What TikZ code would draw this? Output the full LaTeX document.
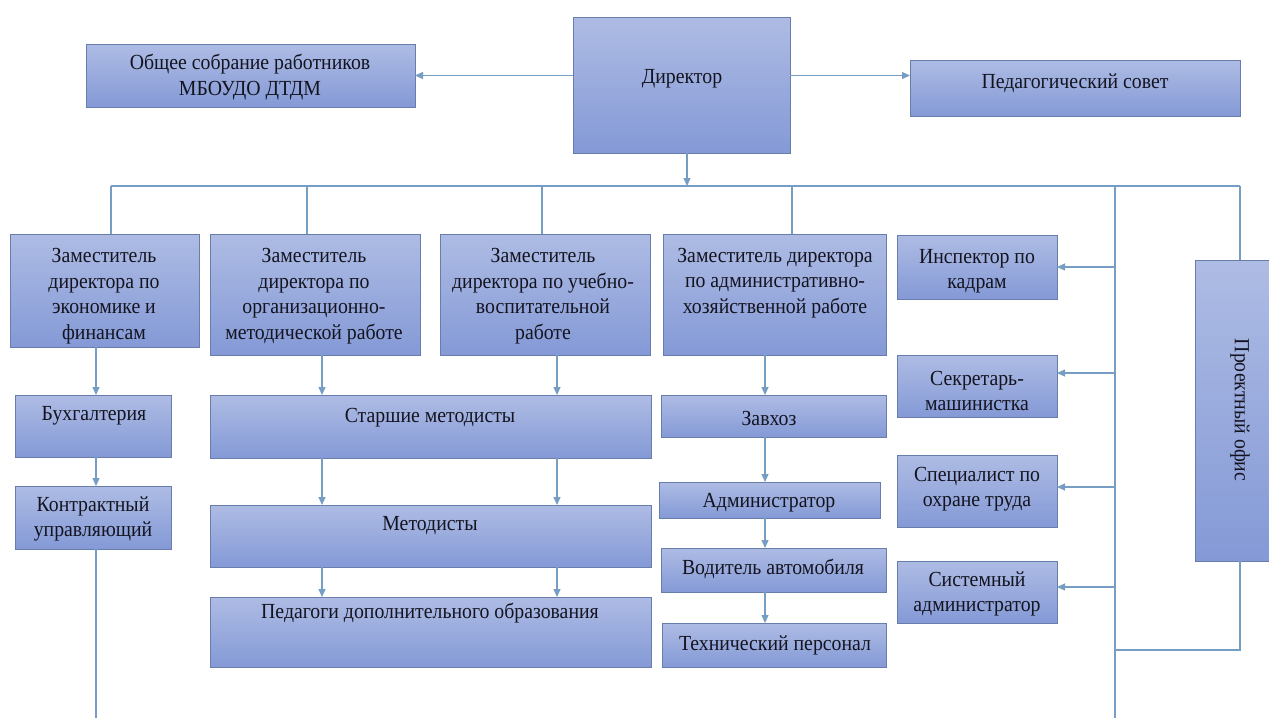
\documentclass[tikz,border=0pt]{standalone}
\usepackage{fontspec}
\setmainfont[FakeStretch=0.92]{Liberation Serif}
\usetikzlibrary{arrows.meta}
\definecolor{boxtop}{RGB}{174,188,228}
\definecolor{boxbot}{RGB}{132,153,214}
\definecolor{boxline}{RGB}{105,125,170}
\definecolor{linec}{RGB}{118,158,196}
\definecolor{txtc}{RGB}{20,20,32}
\newcommand\ubox[5]{\node[box, anchor=north west, minimum width={(#4-#2)*1pt}, minimum height={(#5-#3)*1pt}] (#1) at (#2,#3) {};}
\begin{document}
\begin{tikzpicture}[x=1pt,y=-1pt,
  box/.style={draw=boxline, line width=0.9pt, top color=boxtop, bottom color=boxbot, inner sep=0pt, outer sep=0pt},
  txt/.style={font=\fontsize{21.5}{25.5}\selectfont, text=txtc, align=center, inner sep=0pt},
  conn/.style={draw=linec, line width=1.2pt},
  arr/.style={conn, -{Triangle[length=8pt,width=7pt]}}]
\clip (0,0) rectangle (1269,718);
\fill[white] (0,0) rectangle (1269,718);
% boxes
\ubox{obsh}{86}{44}{415}{107}
\ubox{dir}{573}{17}{790}{153}
\ubox{ped}{910}{60}{1240}{116}
\ubox{zam1}{10}{234}{199}{347}
\ubox{zam2}{210}{234}{420}{355}
\ubox{zam3}{440}{234}{650}{355}
\ubox{zam4}{663}{234}{886}{355}
\ubox{insp}{897}{235}{1057}{299}
\ubox{sec}{897}{355}{1057}{417}
\ubox{spec}{897}{455}{1057}{527}
\ubox{sys}{897}{561}{1057}{623}
\ubox{proj}{1195}{260}{1282}{561}
\ubox{buh}{15}{395}{171}{457}
\ubox{kon}{15}{486}{171}{549}
\ubox{star}{210}{395}{651}{458}
\ubox{met}{210}{505}{651}{567}
\ubox{pedo}{210}{597}{651}{667}
\ubox{zav}{661}{395}{886}{437}
\ubox{adm}{659}{482}{880}{518}
\ubox{vod}{661}{548}{886}{592}
\ubox{tex}{662}{623}{886}{667}
% texts
\node[txt] (obshT) at (250,77) {Общее собрание работников\\МБОУДО ДТДМ};
\node[txt] (dirT) at (682,79) {Директор};
\node[txt] (pedT) at (1075,83) {Педагогический совет};
\node[txt] (zam1T) at (104,296) {Заместитель\\директора по\\экономике и\\финансам};
\node[txt] (zam2T) at (314,296) {Заместитель\\директора по\\организационно-\\методической работе};
\node[txt] (zam3T) at (543,296) {Заместитель\\директора по учебно-\\воспитательной\\работе};
\node[txt] (zam4T) at (775,283) {Заместитель директора\\по административно-\\хозяйственной работе};
\node[txt] (inspT) at (977,271) {Инспектор по\\кадрам};
\node[txt] (secT) at (977,391) {Секретарь-\\машинистка};
\node[txt] (specT) at (977,489) {Специалист по\\охране труда};
\node[txt] (sysT) at (977,594) {Системный\\администратор};
\node[txt, rotate=-90] (projT) at (1240,410) {Проектный офис};
\node[txt] (buhT) at (94,416) {Бухгалтерия};
\node[txt] (konT) at (93,519) {Контрактный\\управляющий};
\node[txt] (starT) at (430,418) {Старшие методисты};
\node[txt] (metT) at (430,526) {Методисты};
\node[txt] (pedoT) at (430,613) {Педагоги дополнительного образования};
\node[txt] (zavT) at (769,418) {Завхоз};
\node[txt] (admT) at (769,503) {Администратор};
\node[txt] (vodT) at (773,569) {Водитель автомобиля};
\node[txt] (texT) at (775,645) {Технический персонал};
% helper coordinates
\coordinate (b1) at (111,186);
\coordinate (b2) at (307,186);
\coordinate (b3) at (542,186);
\coordinate (b4) at (792,186);
\coordinate (b5) at (1115,186);
\coordinate (b6) at (1240,186);
\coordinate (dd) at (687,186);
\coordinate (b5end) at (1115,718);
\coordinate (pb) at (1115,650);
\coordinate (c1) at (96,0);
\coordinate (c1end) at (96,718);
\coordinate (m1) at (322,0);
\coordinate (m2) at (557,0);
\coordinate (h) at (765,0);
\coordinate (a1) at (1115,267);
\coordinate (a2) at (1115,373);
\coordinate (a3) at (1115,487);
\coordinate (a4) at (1115,587);
% top connectors
\draw[arr] (dir.west |- obsh.east) -- (obsh.east);
\draw[arr] (dir.east |- obsh.east) -- (ped.west |- obsh.east);
\draw[arr] (dir.south -| dd) -- (dd);
\draw[conn] (b1) -- (b6);
\draw[conn] (b1) -- (zam1.north -| b1);
\draw[conn] (b2) -- (zam2.north -| b2);
\draw[conn] (b3) -- (zam3.north -| b3);
\draw[conn] (b4) -- (zam4.north -| b4);
\draw[conn] (b5) -- (b5end);
\draw[conn] (b6) -- (proj.north -| b6);
\draw[conn] (proj.south -| b6) -- (b6 |- pb) -- (pb);
% right side arrows
\draw[arr] (a1) -- (a1 -| insp.east);
\draw[arr] (a2) -- (a2 -| sec.east);
\draw[arr] (a3) -- (a3 -| spec.east);
\draw[arr] (a4) -- (a4 -| sys.east);
% left column
\draw[arr] (zam1.south -| c1) -- (buh.north -| c1);
\draw[arr] (buh.south -| c1) -- (kon.north -| c1);
\draw[conn] (kon.south -| c1) -- (c1end);
% middle
\draw[arr] (zam2.south -| m1) -- (star.north -| m1);
\draw[arr] (zam3.south -| m2) -- (star.north -| m2);
\draw[arr] (star.south -| m1) -- (met.north -| m1);
\draw[arr] (star.south -| m2) -- (met.north -| m2);
\draw[arr] (met.south -| m1) -- (pedo.north -| m1);
\draw[arr] (met.south -| m2) -- (pedo.north -| m2);
% zam4 column
\draw[arr] (zam4.south -| h) -- (zav.north -| h);
\draw[arr] (zav.south -| h) -- (adm.north -| h);
\draw[arr] (adm.south -| h) -- (vod.north -| h);
\draw[arr] (vod.south -| h) -- (tex.north -| h);
\end{tikzpicture}
\end{document}
